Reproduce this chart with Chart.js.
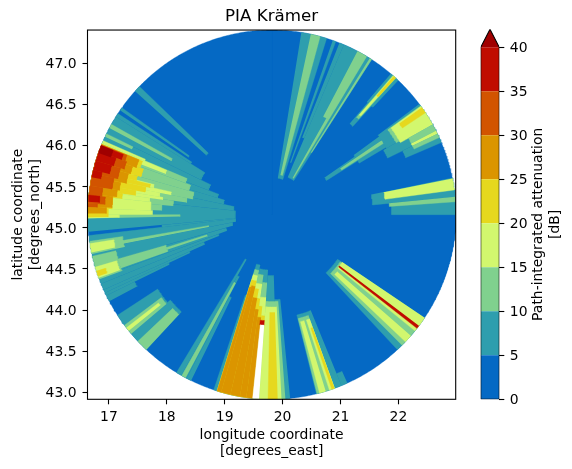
<!DOCTYPE html>
<html>
<head>
<meta charset="utf-8">
<script src="https://cdn.jsdelivr.net/npm/chart.js@4/dist/chart.umd.min.js"></script>
<style>
  body { margin: 0; background: #fff; }
  canvas { position: absolute; left: 0; top: 0; }
</style>
</head>
<body>
<canvas id="map" width="572" height="469"></canvas>
<canvas id="bar" width="572" height="469"></canvas>
<script>
/* global Chart */
const xTicks = [17, 18, 19, 20, 21, 22]
const yTicks = [43, 43.5, 44, 44.5, 45, 45.5, 46, 46.5, 47]
const barTicks = [0, 5, 10, 15, 20, 25, 30, 35, 40]
const binColors = ['#0569c4', '#2e9eae', '#80d18e', '#d2f76e', '#e6d81e', '#db9500', '#d25400', '#c00c00', '#a00000']
const NO_DATA = 9

// radar site and reach, degrees
const siteLon = 19.815
const siteLat = 45.16
const reachLon = 3.18
const reachLat = 2.245

// wedges: azimuth from, azimuth to, range from, range to (1 = rim), colour bin
const northFan = [
  [9.2, 17.3, 0.2, 1, 1], [12.2, 15.2, 0.22, 1, 2], [19.3, 20.3, 0.3, 1, 1],
  [21.5, 23, 0.45, 1, 1], [23, 32.8, 0.22, 1, 1], [27.7, 31, 0.6, 1, 2],
  [29.5, 31, 0.23, 0.6, 2], [32.1, 32.8, 0.4, 1, 2]
]
const neStreak = [
  [40.6, 42.6, 0.65, 0.8, 1], [40.2, 43.3, 0.8, 1, 1], [41, 42.3, 0.7, 1, 2], [41.2, 42.1, 0.72, 1, 3], [41.4, 42.2, 0.86, 1, 4]
]
const neFan = [
  [55, 58, 0.35, 0.55, 1], [54, 59.5, 0.55, 0.8, 1], [56, 57.5, 0.45, 0.8, 2], [53.2, 60, 0.72, 1, 1], [60, 64, 0.7, 1, 1],
  [64, 67, 0.79, 1, 1], [53.8, 60, 0.78, 1, 2], [54, 60.8, 0.8, 1, 3], [60.8, 63, 0.85, 1, 2],
  [63, 64, 0.85, 1, 3], [64, 65.3, 0.85, 1, 2], [54.5, 56.5, 0.85, 1, 4]
]
const eastFan = [
  [78.5, 84.5, 0.55, 1, 1], [84.5, 90, 0.65, 1, 1], [78.7, 82.3, 0.62, 1, 3], [84.4, 86, 0.64, 1, 2]
]
const seFan = [
  [123.9, 137, 0.43, 1, 1], [124.5, 135, 0.45, 1, 2], [123.9, 129, 0.46, 1, 3],
  [131, 133.5, 0.47, 1, 3], [127, 128, 0.46, 1, 7]
]
const ssFan = [
  [157.8, 166, 0.56, 1, 1], [155.8, 157.8, 0.93, 1, 1], [160, 165.8, 0.58, 1, 2],
  [160, 161.8, 0.6, 1, 3], [163, 165, 0.6, 1, 3], [160.1, 161, 0.65, 1, 4]
]
const southFan = [
  [174.3, 198.4, 0.46, 1, 1], [178.2, 184, 0.33, 0.5, 1], [184, 193, 0.3, 0.5, 1], [193, 197.3, 0.28, 0.5, 1],
  [175.8, 184, 0.47, 1, 2], [184, 188, 0.37, 1, 2], [188, 193, 0.33, 1, 2], [193, 197.3, 0.31, 1, 2],
  [177, 184, 0.5, 1, 3], [184, 188, 0.45, 1, 3], [188, 193, 0.38, 1, 3], [193, 197.3, 0.34, 1, 3],
  [178.2, 181.2, 0.53, 1, 4], [184, 186, 0.55, 0.6, 4], [186, 188, 0.5, 1, 4], [188, 190, 0.46, 1, 4],
  [190, 193, 0.41, 1, 4], [193, 197.3, 0.37, 1, 4],
  [186, 188, 0.56, 1, 5], [188, 190, 0.52, 1, 5], [190, 193, 0.46, 1, 5], [193, 196, 0.4, 1, 5],
  [196, 197.3, 0.41, 1, 5], [184, 186.3, 0.575, 0.6, 7], [184, 186, 0.6, 1, NO_DATA]
]
const swStreak = [
  [206, 207.6, 0.5, 1, 1], [207.6, 209.5, 0.38, 1, 1], [209.5, 211.2, 0.28, 1, 1], [207.9, 209.3, 0.42, 1, 2]
]
const swFan = [
  [223, 230, 0.72, 1, 1], [230, 237, 0.74, 1, 1], [223, 226.7, 0.74, 1, 2],
  [229.8, 233.2, 0.75, 1, 2], [231, 232.2, 0.78, 1, 3]
]
const westTeal = [
  [242, 244, 0.83, 1, 1], [244, 245, 0.62, 1, 1], [245, 246, 0.49, 1, 1], [246, 248, 0.4, 1, 1],
  [248, 250, 0.31, 1, 1], [250, 254, 0.26, 1, 1], [254, 259, 0.22, 1, 1], [259, 263.5, 0.2, 1, 1],
  [263.5, 264.7, 0.2, 0.6, 1], [264.7, 276, 0.2, 1, 1], [276, 282, 0.21, 1, 1], [282, 287, 0.27, 1, 1],
  [287, 291, 0.31, 1, 1], [291, 296, 0.37, 1, 1], [296, 302, 0.43, 1, 1], [302, 303.2, 0.52, 1, 1],
  [304.4, 305.4, 0.55, 1, 1], [312, 314, 0.48, 1, 1]
]
const westGreen = [
  [249.5, 257, 0.87, 1, 2], [250.5, 254, 0.6, 0.87, 2], [251.5, 252.8, 0.37, 0.6, 2],
  [257.7, 261.7, 0.82, 1, 2], [259, 260.2, 0.35, 1, 2],
  [268.8, 270, 0.5, 1, 2], [270, 272.2, 0.66, 1, 2], [272.2, 275, 0.6, 1, 2], [275, 278, 0.54, 1, 2],
  [278, 281, 0.47, 1, 2], [281, 286, 0.44, 1, 2], [286, 290, 0.47, 1, 2], [290, 293, 0.5, 1, 2],
  [295, 296, 0.84, 1, 2], [298, 299.3, 0.62, 1, 2]
]
const westLight = [
  [250, 253.5, 0.88, 1, 3], [258.2, 261, 0.87, 1, 3],
  [268.9, 270, 0.83, 1, 3], [270, 272, 0.65, 1, 3], [272, 276, 0.66, 1, 3], [276, 277.7, 0.67, 1, 3],
  [277.7, 279, 0.6, 1, 3], [279, 281, 0.62, 1, 3], [281, 282.7, 0.56, 1, 3], [282.7, 284.3, 0.66, 1, 3],
  [284.3, 291, 0.78, 1, 3], [291, 292.8, 0.62, 1, 3], [292.8, 293.6, 0.75, 1, 3]
]
const westYellow = [
  [250.5, 252.2, 0.95, 1, 4],
  [269.2, 272, 0.89, 1, 4], [272, 276, 0.87, 1, 4], [276, 278, 0.82, 1, 4], [278, 280, 0.75, 1, 4],
  [280, 282.4, 0.7, 1, 4], [282.4, 284, 0.68, 1, 4], [284, 286, 0.76, 1, 4], [286, 289.5, 0.74, 1, 4],
  [289.5, 292.4, 0.76, 1, 4]
]
const westWarm = [
  [270.4, 272.5, 0.9, 1, 5], [272.5, 276.5, 0.87, 1, 5], [276.5, 279, 0.85, 1, 5], [279, 282, 0.84, 1, 5],
  [282, 286, 0.81, 1, 5], [286, 289, 0.8, 1, 5], [289, 292.4, 0.78, 1, 5],
  [272.4, 273.5, 0.95, 1, 6], [273.5, 276, 0.91, 1, 6], [276, 279, 0.93, 1, 6], [279, 283, 0.88, 1, 6],
  [283, 287, 0.86, 1, 6], [287, 290, 0.84, 1, 6], [290, 292.2, 0.85, 1, 6],
  [274, 276.1, 0.94, 1, 7], [281.7, 284, 0.95, 1, 7], [284, 287, 0.91, 1, 7], [287, 290, 0.9, 1, 7],
  [290, 292, 0.87, 1, 7], [289.5, 292, 0.93, 1, 8]
]

const colorOf = bin => bin === NO_DATA ? '#ffffff' : binColors[bin]

function toLonLat (az, range) {
  const a = az * Math.PI / 180
  return { x: siteLon + reachLon * range * Math.sin(a), y: siteLat + reachLat * range * Math.cos(a) }
}

function wedgeOutline ([az0, az1, r0, r1]) {
  const pts = []
  for (let az = az0; az < az1; az += 0.5) pts.push(toLonLat(az, r1))
  pts.push(toLonLat(az1, r1))
  if (r0 === 0) {
    pts.push(toLonLat(0, 0))
  } else {
    pts.push(toLonLat(az1, r0))
    for (let az = az1 - 0.5; az > az0; az -= 0.5) pts.push(toLonLat(az, r0))
    pts.push(toLonLat(az0, r0))
  }
  return pts
}

// painted in this order, later rows lie over earlier ones
const layers = [
  [[0, 360, 0, 1, 0]],
  northFan, neStreak, neFan, eastFan, seFan, ssFan, southFan, swStreak, swFan,
  westTeal, westGreen, westLight, westYellow, westWarm
].flat()

function fixedAxisSize (key, size) {
  return scale => { scale[key] = size }
}

function tickSetter (values) {
  return scale => { scale.ticks = values.map(value => ({ value })) }
}

const frame = {
  id: 'frame',
  afterDatasetsDraw (chart) {
    const { ctx, chartArea: a } = chart
    ctx.save()
    ctx.strokeStyle = '#000'
    ctx.lineWidth = 1.1
    ctx.strokeRect(a.left, a.top, a.right - a.left, a.bottom - a.top)
    ctx.restore()
  }
}

// vertical-axis labels sit a little higher than the tick marks otherwise
const labelNudge = {
  id: 'labelNudge',
  beforeDraw (chart) {
    const scale = chart.scales.y
    if (scale.nudged) return
    scale.getLabelItems().forEach(item => { item.options.translation[1] += 1.3 })
    scale.nudged = true
  }
}

const tickFont = { family: 'DejaVu Sans', size: 13.9 }

new Chart(document.getElementById('map'), {
  type: 'scatter',
  plugins: [frame, labelNudge],
  data: {
    datasets: layers.map((row, i) => ({
      data: wedgeOutline(row),
      showLine: true,
      fill: 'shape',
      tension: 0,
      pointRadius: 0,
      borderWidth: 0.4,
      borderColor: colorOf(row[4]),
      backgroundColor: colorOf(row[4]),
      order: layers.length - i
    }))
  },
  options: {
    responsive: false,
    animation: false,
    events: [],
    layout: { padding: { top: 0, right: 116.3, left: 0, bottom: 0 } },
    plugins: {
      legend: { display: false },
      tooltip: { enabled: false },
      title: {
        display: true,
        text: 'PIA Krämer',
        fullSize: false,
        color: '#000',
        font: { family: 'DejaVu Sans', size: 16.7, weight: 'normal' },
        padding: { top: 6.5, bottom: 3.5 }
      }
    },
    scales: {
      x: {
        type: 'linear',
        min: 16.63,
        max: 22.99,
        afterFit: fixedAxisSize('height', 69.7),
        afterBuildTicks: tickSetter(xTicks),
        grid: { drawOnChartArea: false, tickLength: 5, tickColor: '#000', tickWidth: 1.1 },
        border: { display: false },
        ticks: { color: '#000', font: tickFont, maxRotation: 0, padding: 5, callback: v => String(v) },
        title: {
          display: true,
          text: ['longitude coordinate', '[degrees_east]'],
          color: '#000',
          font: tickFont,
          padding: { top: 2, bottom: 9 }
        }
      },
      y: {
        type: 'linear',
        min: 42.915,
        max: 47.405,
        afterFit: fixedAxisSize('width', 87.5),
        afterBuildTicks: tickSetter(yTicks),
        grid: { drawOnChartArea: false, tickLength: 5, tickColor: '#000', tickWidth: 1.1 },
        border: { display: false },
        ticks: { color: '#000', font: tickFont, padding: 6, callback: v => v.toFixed(1) },
        title: {
          display: true,
          text: ['latitude coordinate', '[degrees_north]'],
          color: '#000',
          font: tickFont,
          padding: { top: 10, bottom: 2 }
        }
      }
    }
  }
})

// colour bar
const barTop = 42.05
const barOutline = [
  { x: 0, y: 0 }, { x: 0, y: 40 }, { x: 0.5, y: barTop }, { x: 1, y: 40 }, { x: 1, y: 0 }, { x: 0, y: 0 }
]
const barCells = binColors.slice(0, 8).map((color, i) => ({
  data: [
    { x: 0, y: barTicks[i] }, { x: 1, y: barTicks[i] }, { x: 1, y: barTicks[i + 1] }, { x: 0, y: barTicks[i + 1] }
  ],
  showLine: true,
  fill: 'shape',
  pointRadius: 0,
  borderWidth: 0,
  backgroundColor: color
}))

const barLabel = {
  id: 'barLabel',
  afterDraw (chart) {
    const { ctx, chartArea: a, scales } = chart
    const mid = scales.y.getPixelForValue(20)
    ctx.save()
    ctx.fillStyle = '#000'
    ctx.font = '13.9px "DejaVu Sans"'
    ctx.textAlign = 'center'
    ctx.textBaseline = 'middle'
    ctx.translate(a.right + 39.5, mid + 1)
    ctx.rotate(-Math.PI / 2)
    ctx.fillText('Path-integrated attenuation', 0, 0)
    ctx.fillText('[dB]', 0, 16.5)
    ctx.restore()
  }
}

new Chart(document.getElementById('bar'), {
  type: 'scatter',
  plugins: [barLabel, labelNudge],
  data: {
    datasets: [
      {
        data: barOutline,
        showLine: true,
        fill: false,
        pointRadius: 0,
        borderColor: '#000',
        borderWidth: 1.1,
        order: 0
      },
      {
        data: barOutline.slice(1, 4),
        showLine: true,
        fill: 'shape',
        pointRadius: 0,
        borderWidth: 0,
        backgroundColor: binColors[8],
        order: 1
      },
      ...barCells.map(cell => ({ ...cell, order: 2 }))
    ]
  },
  options: {
    responsive: false,
    animation: false,
    events: [],
    layout: { padding: { top: 29.3, right: 0, left: 480.7, bottom: 69.7 } },
    plugins: { legend: { display: false }, tooltip: { enabled: false } },
    scales: {
      x: { type: 'linear', min: 0, max: 1, display: false },
      y: {
        type: 'linear',
        position: 'right',
        min: 0,
        max: barTop,
        afterFit: fixedAxisSize('width', 72.7),
        afterBuildTicks: tickSetter(barTicks),
        grid: { drawOnChartArea: false, tickLength: 5, tickColor: '#000', tickWidth: 1.1 },
        border: { display: false },
        ticks: { color: '#000', font: tickFont, padding: 5.5 }
      }
    }
  }
})
</script>
</body>
</html>
